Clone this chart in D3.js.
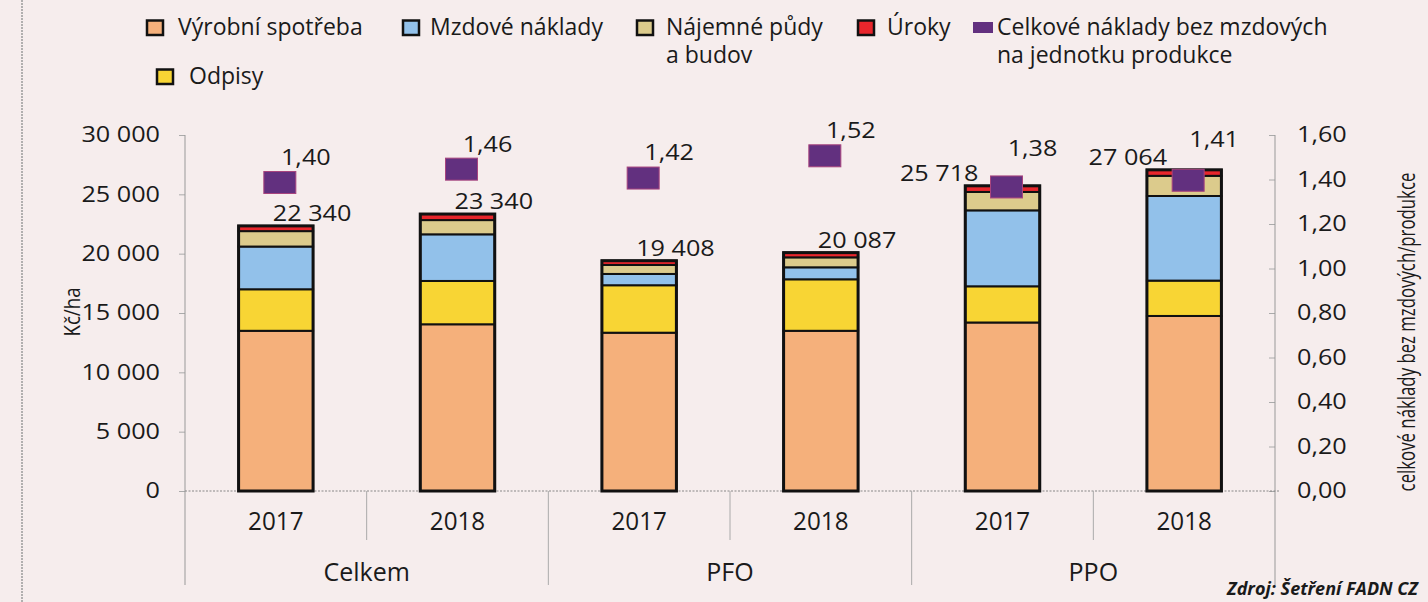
<!DOCTYPE html>
<html>
<head>
<meta charset="utf-8">
<script src="https://cdn.jsdelivr.net/npm/d3@7"></script>
<style>
  body { margin: 0; background: #f6eded; }
  svg { display: block; }
  text { font-family: "Open Sans", sans-serif; fill: #1a1a1a; }
</style>
</head>
<body>
<div id="cont"></div>
<script>
// Data
var groups = ["Celkem", "PFO", "PPO"];
var years = ["2017", "2018"];
var bars = ["Celkem 2017", "Celkem 2018", "PFO 2017", "PFO 2018", "PPO 2017", "PPO 2018"];

var vyrobniSpotreba = [13500, 14050, 13340, 13500, 14200, 14750];
var odpisy          = [3500, 3650, 4000, 4340, 3050, 2980];
var mzdoveNaklady   = [3600, 3930, 950, 1010, 6400, 7130];
var najemne         = [1300, 1200, 760, 840, 1550, 1700];
var uroky           = [440, 510, 358, 397, 518, 504];
var totals          = [22340, 23340, 19408, 20087, 25718, 27064];
var ratio           = [1.40, 1.46, 1.42, 1.52, 1.38, 1.41];

var leftTicks = [0, 5000, 10000, 15000, 20000, 25000, 30000];
var rightTicks = [0, 0.2, 0.4, 0.6, 0.8, 1.0, 1.2, 1.4, 1.6];

var series = [
  { key: "vyrobni", name: "Výrobní spotřeba", values: vyrobniSpotreba, color: "#f5b07b" },
  { key: "odpisy", name: "Odpisy", values: odpisy, color: "#f8d534" },
  { key: "mzdove", name: "Mzdové náklady", values: mzdoveNaklady, color: "#92c1ea" },
  { key: "najemne", name: "Nájemné půdy", values: najemne, color: "#dccb8c" },
  { key: "uroky", name: "Úroky", values: uroky, color: "#e8262c" }
];
var purple = "#62307f";

// Layout
var W = 1428, H = 602;
var plotLeft = 185, plotRight = 1275, plotTop = 135, base = 491;
var numSize = 21, numSx = 1.2;

var svg = d3.select("#cont").append("svg")
    .attr("width", W)
    .attr("height", H);

var x = d3.scaleBand()
    .domain(bars)
    .range([plotLeft, plotRight])
    .paddingInner(0.59)
    .paddingOuter(0.295);

var y = d3.scaleLinear().domain([0, 30000]).range([base, plotTop]);
var yR = d3.scaleLinear().domain([0, 1.6]).range([base, plotTop]);

var fmt = function(v) { return d3.format(",")(v).replace(/,/g, " "); };
var fmtR = function(v) { return d3.format(".2f")(v).replace(".", ","); };

// scaled text helper (stretch / squeeze along the text direction)
function sText(parent, tx, ty, rot, size, str, sx, anchor) {
  var g = parent.append("g")
    .attr("transform", "translate(" + tx + "," + ty + ") rotate(" + rot + ") scale(" + (sx || 1) + ",1)");
  g.append("text").attr("text-anchor", anchor || "middle").attr("font-size", size).text(str);
  return g;
}

// page edge line
svg.append("line")
    .attr("x1", 22).attr("x2", 22).attr("y1", 0).attr("y2", H)
    .attr("stroke", "#9a9a9a").attr("stroke-width", 1.5)
    .attr("stroke-dasharray", "2,1");

// axes
var gL = svg.append("g").attr("transform", "translate(" + plotLeft + ",0)")
    .call(d3.axisLeft(y).tickValues(leftTicks).tickSize(6).tickPadding(19).tickFormat(fmt));
var gR = svg.append("g").attr("transform", "translate(" + plotRight + ",0)")
    .call(d3.axisRight(yR).tickValues(rightTicks).tickSize(-6).tickPadding(22).tickFormat(fmtR));
[gL, gR].forEach(function(g, k) {
  g.select(".domain").remove();
  g.selectAll(".tick line").attr("stroke", "#aaa");
  g.selectAll(".tick text").attr("font-size", numSize).attr("fill", "#1a1a1a")
    .attr("font-family", "Open Sans, sans-serif")
    .attr("transform", "scale(" + numSx + ",1)")
    .attr("x", (k === 0 ? -25 : 22) / numSx);
});

// vertical axis lines (extend down into category area)
svg.append("line").attr("x1", plotLeft).attr("x2", plotLeft).attr("y1", plotTop).attr("y2", 585)
    .attr("stroke", "#999").attr("stroke-width", 1);
svg.append("line").attr("x1", plotRight).attr("x2", plotRight).attr("y1", plotTop).attr("y2", 585)
    .attr("stroke", "#999").attr("stroke-width", 1);

// baseline
svg.append("line").attr("x1", plotLeft).attr("x2", plotRight + 4).attr("y1", base).attr("y2", base)
    .attr("stroke", "#888").attr("stroke-width", 1.2).attr("stroke-dasharray", "2,1.5");

// category separators
var step = x.step();
bars.forEach(function(b, i) {
  if (i === 0) return;
  var sx = x(b) - (step - x.bandwidth()) / 2;
  var long = i % 2 === 0;
  svg.append("line").attr("x1", sx).attr("x2", sx)
    .attr("y1", base).attr("y2", long ? 585 : 540)
    .attr("stroke", "#aaa").attr("stroke-width", 1);
});

// year labels
var gYears = svg.append("g");
bars.forEach(function(b, i) {
  sText(gYears, x(b) + x.bandwidth() / 2, 530, 0, 25, years[i % 2], 0.97);
});

// group labels
var gGroups = svg.append("g");
groups.forEach(function(g, i) {
  sText(gGroups, plotLeft + step * (2 * i + 1), 581, 0, 25, g, 1);
});

// stacked bars
var table = bars.map(function(b, i) {
  var row = { bar: b };
  series.forEach(function(s) { row[s.key] = s.values[i]; });
  return row;
});
var stack = d3.stack().keys(series.map(function(s) { return s.key; }));
var stacked = stack(table);

var gBars = svg.append("g");
stacked.forEach(function(layer, li) {
  gBars.append("g").selectAll("rect").data(layer).join("rect")
    .attr("x", function(d) { return x(d.data.bar); })
    .attr("width", x.bandwidth())
    .attr("y", function(d) { return y(d[1]); })
    .attr("height", function(d) { return y(d[0]) - y(d[1]); })
    .attr("fill", series[li].color)
    .attr("stroke", "#111")
    .attr("stroke-width", 2);
});
gBars.append("g").selectAll("rect").data(bars).join("rect")
    .attr("x", function(d) { return x(d); })
    .attr("width", x.bandwidth())
    .attr("y", function(d, i) { return y(totals[i]); })
    .attr("height", function(d, i) { return base - y(totals[i]); })
    .attr("fill", "none")
    .attr("stroke", "#111")
    .attr("stroke-width", 3);

// total labels
var gTot = svg.append("g");
bars.forEach(function(b, i) {
  var c = x(b) + x.bandwidth() / 2;
  var ppo = i >= 4;
  sText(gTot, ppo ? c - (i === 4 ? 24 : 17) : c - 3, y(totals[i]) - 5, 0, numSize,
        fmt(totals[i]), numSx, ppo ? "end" : "start");
});

// ratio markers
var mw = 32, mh = 22;
svg.append("g").selectAll("rect").data(bars).join("rect")
    .attr("x", function(d) { return x(d) + x.bandwidth() / 2 + 4 - mw / 2; })
    .attr("y", function(d, i) { return yR(ratio[i]) + 3 - mh / 2; })
    .attr("width", mw).attr("height", mh)
    .attr("fill", purple)
    .attr("stroke", "#a8447e").attr("stroke-width", 1);

var ratioDy = [7, 6, 7, 7, 20, 22];
var gRat = svg.append("g");
bars.forEach(function(b, i) {
  sText(gRat, x(b) + x.bandwidth() / 2 + 30, yR(ratio[i]) + 3 - mh / 2 - ratioDy[i], 0, numSize,
        fmtR(ratio[i]), numSx, "middle");
});

// axis titles
sText(svg, 80, 312, -90, 22, "Kč/ha", 0.85);
sText(svg, 1415, 332, -90, 23, "celkové náklady bez mzdových/produkce", 0.73);

// legend
var legendItems = [
  { lines: ["Výrobní spotřeba"], color: series[0].color, x: 147, y: 35, dx: 31 },
  { lines: ["Mzdové náklady"], color: series[2].color, x: 403, y: 35, dx: 27 },
  { lines: ["Nájemné půdy", "a budov"], color: series[3].color, x: 637, y: 35, dx: 29 },
  { lines: ["Úroky"], color: series[4].color, x: 858, y: 35, dx: 29 },
  { lines: ["Celkové náklady bez mzdových", "na jednotku produkce"], color: purple, x: 973, y: 35, dx: 24, wide: true },
  { lines: ["Odpisy"], color: series[1].color, x: 157, y: 84, dx: 32 }
];
var gLeg = svg.append("g");
legendItems.forEach(function(it) {
  var g = gLeg.append("g").attr("transform", "translate(" + it.x + "," + it.y + ")");
  if (it.wide) {
    g.append("rect").attr("x", 0).attr("y", -13).attr("width", 20).attr("height", 11)
      .attr("fill", it.color);
  } else {
    g.append("rect").attr("x", 0).attr("y", -14.5).attr("width", 16).attr("height", 14.5)
      .attr("fill", it.color).attr("stroke", "#111").attr("stroke-width", 2.5);
  }
  it.lines.forEach(function(l, k) {
    g.append("text")
      .attr("x", it.dx)
      .attr("y", k * 28)
      .attr("font-size", 23)
      .text(l);
  });
});

// source
svg.append("text")
    .attr("x", 1418).attr("y", 595)
    .attr("text-anchor", "end")
    .attr("font-size", 18)
    .attr("font-weight", "bold")
    .attr("font-style", "italic")
    .attr("font-family", "Liberation Sans, sans-serif")
    .text("Zdroj: Šetření FADN CZ");
</script>
</body>
</html>
